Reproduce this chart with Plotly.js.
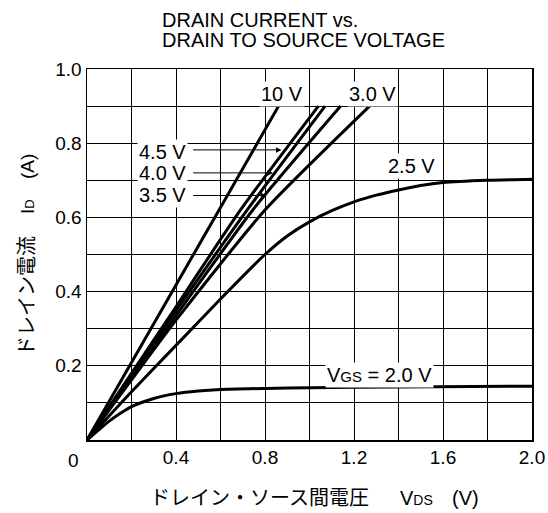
<!DOCTYPE html>
<html>
<head>
<meta charset="utf-8">
<script src="https://cdn.plot.ly/plotly-3.0.1.min.js"></script>
<style>html,body{margin:0;padding:0;background:#fff;}#chart{width:548px;height:513px;}</style>
</head>
<body>
<div id="chart"></div>
<script>
// Drain current I_D (A) vs drain-source voltage V_DS (V) for each V_GS
const vds10 = [0, 0.20, 0.40, 0.60, 0.861];
const id10  = [0, 0.209, 0.418, 0.627, 0.90];

const vds45 = [0, 0.20, 0.36, 0.69, 1.04];
const id45  = [0, 0.180, 0.323, 0.62, 0.90];

const vds40 = [0, 0.20, 0.37, 0.72, 1.07];
const id40  = [0, 0.175, 0.323, 0.62, 0.90];

const vds35 = [0, 0.20, 0.385, 0.745, 1.14];
const id35  = [0, 0.168, 0.323, 0.62, 0.90];

const vds30 = [0, 0.20, 0.40, 0.80, 1.27];
const id30  = [0, 0.162, 0.323, 0.62, 0.90];

const vds25 = [0, 0.2, 0.4, 0.6, 0.8, 0.9, 1.0, 1.1, 1.2, 1.3, 1.4, 1.5, 1.6, 1.8, 2.0];
const id25  = [0, 0.13, 0.255, 0.38, 0.50, 0.55, 0.588, 0.618, 0.642, 0.66, 0.674, 0.686, 0.694, 0.70, 0.703];

const vds20 = [0, 0.05, 0.1, 0.15, 0.2, 0.3, 0.4, 0.5, 0.6, 0.8, 1.0, 1.4, 2.0];
const id20  = [0, 0.026, 0.051, 0.072, 0.09, 0.112, 0.125, 0.132, 0.136, 0.139, 0.141, 0.143, 0.145];

const xTickVals = [0, 0.2, 0.4, 0.6, 0.8, 1.0, 1.2, 1.4, 1.6, 1.8, 2.0];
const xTickText = ['', '', '0.4', '', '0.8', '', '1.2', '', '1.6', '', '2.0'];
const yTickVals = [0, 0.1, 0.2, 0.3, 0.4, 0.5, 0.6, 0.7, 0.8, 0.9, 1.0];
const yTickText = ['', '', '0.2', '', '0.4', '', '0.6', '', '0.8', '', '1.0'];

const FONT = 'Liberation Sans, Arial, Helvetica, Noto Sans CJK JP, sans-serif';
const line = {color: '#000', width: 3, shape: 'spline', smoothing: 0.6};

const series = [[vds10, id10], [vds45, id45], [vds40, id40], [vds35, id35], [vds30, id30], [vds25, id25], [vds20, id20]];
const traces = series.map(s => ({x: s[0], y: s[1], mode: 'lines', line: line, hoverinfo: 'skip', showlegend: false}));

const lbl = (text, x, y) => ({text, x, y, xref: 'x', yref: 'y', showarrow: false,
  xanchor: 'center', yanchor: 'middle',
  font: {family: FONT, size: 20, color: '#000'}, bgcolor: '#fff', borderpad: 1});
const arr = (x, y, ax) => ({text: '', x, y, ax, ay: y, xref: 'x', yref: 'y', axref: 'x', ayref: 'y',
  showarrow: true, arrowhead: 2, arrowsize: 1.1, arrowwidth: 1, arrowcolor: '#000', standoff: 0, startstandoff: 0});
// paper-anchored text, positioned by pixel offsets from the plot area (l=87, t=69, w=445, h=371)
const ptxt = (text, px, py, size, extra) => Object.assign({text, xref: 'paper', yref: 'paper',
  x: (px - 87) / 445, y: (440 - py) / 371, showarrow: false, xanchor: 'center', yanchor: 'middle',
  font: {family: FONT, size: size, color: '#000'}}, extra || {});

const annotations = [
  lbl('10 V', 0.877, 0.933),
  lbl('3.0 V', 1.282, 0.933),
  lbl('4.5 V', 0.34, 0.777),
  lbl('4.0 V', 0.34, 0.72),
  lbl('3.5 V', 0.34, 0.66),
  lbl('2.5 V', 1.458, 0.739),
  lbl('V<span style="font-size:15px">GS</span> = 2.0 V', 1.316, 0.175),
  arr(0.874, 0.782, 0.47),
  arr(0.836, 0.72, 0.47),
  arr(0.806, 0.659, 0.47),
  ptxt('DRAIN CURRENT vs.', 160, 20, 20, {xanchor: 'left'}),
  ptxt('DRAIN TO SOURCE VOLTAGE', 160, 40, 20, {xanchor: 'left'}),
  ptxt('0', 73, 460, 19),
  ptxt('ドレイン・ソース間電圧', 259, 498, 20),
  ptxt('V<span style="font-size:14px">DS</span>', 416, 498, 20),
  ptxt('(V)', 465, 498, 20),
  ptxt('ドレイン電流', 27, 296, 20, {textangle: -90}),
  ptxt('I<span style="font-size:13px">D</span>', 27, 207, 19, {textangle: -90}),
  ptxt('(A)', 27, 167, 19, {textangle: -90})
];

const axisCommon = {
  showgrid: true, gridcolor: '#000', gridwidth: 1, zeroline: false,
  showline: true, linecolor: '#000', linewidth: 1.5, mirror: true, ticks: '',
  tickfont: {family: FONT, size: 19, color: '#000'}, fixedrange: true
};

const layout = {
  width: 548, height: 513,
  margin: {l: 87, r: 16, t: 69, b: 73},
  paper_bgcolor: '#fff', plot_bgcolor: '#fff',
  xaxis: Object.assign({}, axisCommon, {range: [0, 2], tickvals: xTickVals, ticktext: xTickText}),
  yaxis: Object.assign({}, axisCommon, {range: [0, 1], tickvals: yTickVals, ticktext: yTickText}),
  annotations: annotations,
  showlegend: false
};

Plotly.newPlot('chart', traces, layout, {displayModeBar: false, staticPlot: true});
</script>
</body>
</html>
